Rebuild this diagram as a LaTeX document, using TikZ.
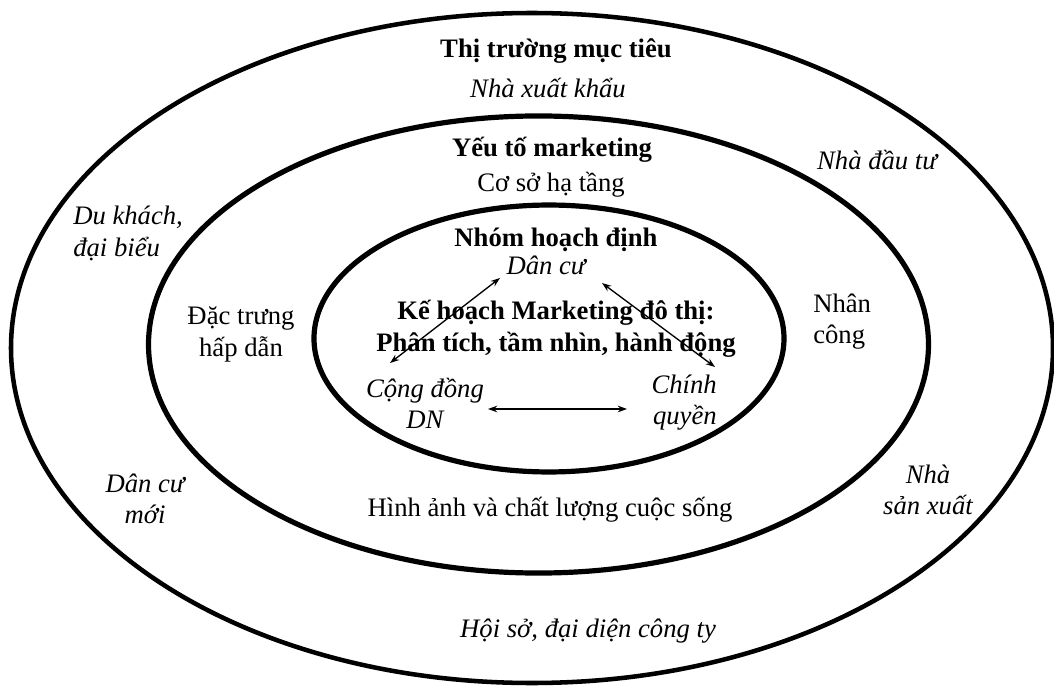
\documentclass[tikz,border=0pt]{standalone}
\usepackage{fontspec}
\setmainfont{Liberation Serif}
\usetikzlibrary{arrows.meta}
\newcommand{\twoc}[2]{\vtop{\halign{\hfil##\hfil\cr #1\cr #2\cr}}}
\newcommand{\twol}[2]{\vtop{\halign{##\hfil\cr #1\cr #2\cr}}}
\newcommand{\twor}[2]{\vtop{\halign{\hfil##\cr #1\cr #2\cr}}}
\tikzset{
  ring/.style={line width=3.9pt, black},
  outerring/.style={line width=3.4pt, black},
  lbl/.style={inner sep=0pt, font=\fontsize{20}{23.5}\selectfont},
  bl/.style={lbl, font=\fontsize{20}{23.5}\selectfont\bfseries},
  il/.style={lbl, font=\fontsize{20}{23.5}\selectfont\itshape},
  biarrow/.style={line width=1pt, {Stealth[length=7pt,width=5pt]}-{Stealth[length=7pt,width=5pt]}}
}
\begin{document}
\begin{tikzpicture}[x=0.75pt,y=-0.75pt]
\useasboundingbox (0,0) rectangle (1054,688);
\fill[white] (0,0) rectangle (1054,688);
% rings
\draw[outerring] (532,348) ellipse [x radius=390.75pt, y radius=251.25pt];
\draw[ring] (538.5,344.5) ellipse [x radius=292.5pt, y radius=171.4pt];
\draw[ring] (549,338.5) ellipse [x radius=176.25pt, y radius=100.1pt];
% outer ring labels
\node[bl, anchor=base] (tmt) at (556,58) {Thị trường mục tiêu};
\node[il, anchor=base] (nxk) at (548,98) {Nhà xuất khẩu};
\node[il, anchor=base] (ndt) at (877,170) {Nhà đầu tư};
\node[il, anchor=base west] (dk) at (73,225) {\twol{Du khách,}{đại biểu}};
\node[il, anchor=base] (dcm) at (145,492) {\twoc{Dân cư}{mới}};
\node[il, anchor=base] (nsx) at (928,483) {\twoc{Nhà}{sản xuất}};
\node[il, anchor=base] (hs) at (588,637) {Hội sở, đại diện công ty};
% middle ring labels
\node[bl, anchor=base] (ytm) at (552,157) {Yếu tố marketing};
\node[lbl, anchor=base] (csht) at (551,192) {Cơ sở hạ tầng};
\node[lbl, anchor=base] (dt) at (241,325) {\twoc{Đặc trưng}{hấp dẫn}};
\node[lbl, anchor=base west] (nc) at (813,312) {\twol{Nhân}{công}};
\node[lbl, anchor=base] (ha) at (550,516) {Hình ảnh và chất lượng cuộc sống};
% inner ring labels
\node[bl, anchor=base] (nhd) at (556,247) {Nhóm hoạch định};
\node[il, anchor=base] (dancu) at (546,275) {Dân cư};
\node[bl, anchor=base] (kh) at (556,320) {\twoc{Kế hoạch Marketing đô thị:}{Phân tích, tầm nhìn, hành động}};
\node[il, anchor=base] (cong) at (425,397) {\twoc{Cộng đồng}{DN}};
\node[il, anchor=base east] (chinh) at (717,393) {\twor{Chính}{quyền}};
% connectors
\draw[biarrow] ([shift={(-35,-34)}]cong.base) -- ([shift={(-46,3)}]dancu.base);
\draw[biarrow] ([shift={(56,8)}]dancu.base) -- ([shift={(-2,-26)}]chinh.base east);
\draw[biarrow] ([shift={(63,12)}]cong.base) -- ([shift={(-90,16)}]chinh.base east);
\end{tikzpicture}
\end{document}
